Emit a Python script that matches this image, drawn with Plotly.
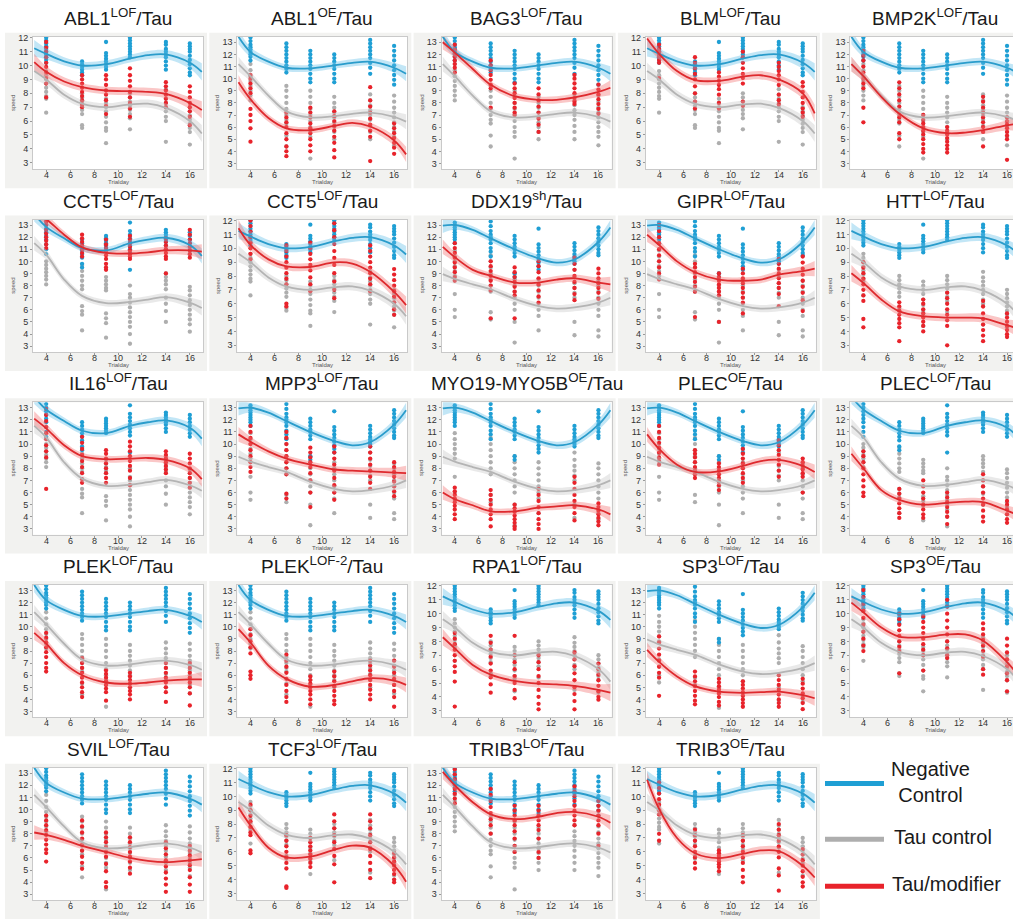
import plotly.graph_objects as go

# ---------------- data ----------------
TITLES = [
    "ABL1<sup>LOF</sup>/Tau", "ABL1<sup>OE</sup>/Tau", "BAG3<sup>LOF</sup>/Tau", "BLM<sup>LOF</sup>/Tau", "BMP2K<sup>LOF</sup>/Tau",
    "CCT5<sup>LOF</sup>/Tau", "CCT5<sup>LOF</sup>/Tau", "DDX19<sup>sh</sup>/Tau", "GIPR<sup>LOF</sup>/Tau", "HTT<sup>LOF</sup>/Tau",
    "IL16<sup>LOF</sup>/Tau", "MPP3<sup>LOF</sup>/Tau", "MYO19-MYO5B<sup>OE</sup>/Tau", "PLEC<sup>OE</sup>/Tau", "PLEC<sup>LOF</sup>/Tau",
    "PLEK<sup>LOF</sup>/Tau", "PLEK<sup>LOF-2</sup>/Tau", "RPA1<sup>LOF</sup>/Tau", "SP3<sup>LOF</sup>/Tau", "SP3<sup>OE</sup>/Tau",
    "SVIL<sup>LOF</sup>/Tau", "TCF3<sup>LOF</sup>/Tau", "TRIB3<sup>LOF</sup>/Tau", "TRIB3<sup>OE</sup>/Tau",
]
BATCH = ["A", "B", "B", "A", "B",
         "D", "A", "C", "C", "A",
         "D", "C", "C", "C", "D",
         "B", "B", "A", "C", "A",
         "B", "A", "B", "A"]

X_TITLE = "Trialday"
Y_TITLE = "speed"
KNOTS_X = [3, 4, 5.5, 7, 9, 11, 12.5, 14, 16, 17]
DAYS = [4, 7, 9, 11, 14, 16]
BAND_HALF = [0.6, 0.4, 0.3, 0.28, 0.28, 0.28, 0.3, 0.32, 0.42, 0.62]
X_TICKS = [4, 6, 8, 10, 12, 14, 16]
Y_TOP = {"A": 12.07, "B": 13.45, "C": 13.45, "D": 13.45}
Y_TICK_MAX = {"A": 12, "B": 13, "C": 13, "D": 13}

NEG_CURVE = {
    "A": [11.25, 10.85, 10.3, 10.0, 10.1, 10.5, 10.75, 10.8, 10.2, 9.55],
    "B": [13.45, 12.2, 11.4, 10.9, 10.85, 11.1, 11.3, 11.4, 10.9, 10.4],
    "C": [12.95, 13.0, 12.6, 11.9, 11.0, 10.25, 9.9, 10.15, 11.6, 12.8],
    "D": [13.9, 12.85, 11.9, 11.1, 10.9, 11.5, 11.8, 11.95, 11.35, 10.45],
}
TAU_CURVE = {
    "A": [9.6, 9.0, 7.9, 7.25, 7.0, 7.2, 7.25, 6.95, 6.0, 5.1],
    "B": [11.2, 10.2, 8.6, 7.3, 6.8, 6.9, 7.1, 7.2, 6.85, 6.45],
    "C": [8.95, 8.55, 8.1, 7.7, 6.9, 6.3, 6.1, 6.2, 6.6, 7.0],
    "D": [11.5, 10.55, 8.5, 7.15, 6.55, 6.65, 6.85, 7.05, 6.6, 6.15],
}
NEG_POINTS = {
    "A": [[12.0, 11.8, 11.6, 11.4, 11.2, 11.0, 10.8, 10.6, 10.4, 10.2],
          [10.3, 10.1, 9.9, 9.7, 9.5, 9.3],
          [11.7, 10.9, 10.7, 10.5, 10.3, 10.1, 9.9, 9.7],
          [12.0, 11.8, 11.6, 11.4, 11.2, 11.0, 10.8, 10.6],
          [11.7, 11.5, 11.2, 11.0, 10.8, 10.6, 10.3, 10.0, 9.7],
          [11.6, 11.4, 11.2, 11.0, 10.7, 10.4, 10.1, 9.8, 9.5, 9.3]],
    "B": [[13.4, 13.1, 12.8, 12.6, 12.4, 12.2, 12.0, 11.8, 11.5],
          [12.9, 12.6, 12.3, 12.0, 11.7, 11.4, 11.1, 10.8, 10.5],
          [12.3, 12.0, 11.7, 11.4, 11.1, 10.8, 10.4, 10.0, 9.7],
          [12.0, 11.7, 11.4, 11.1, 10.8, 10.4, 10.0, 9.7],
          [13.2, 12.9, 12.6, 12.3, 12.0, 11.7, 11.3, 10.9, 10.4],
          [12.7, 12.3, 11.9, 11.5, 11.1, 10.7, 10.3, 9.9, 9.5]],
    "C": [[13.2, 13.0, 12.8, 12.6, 12.4, 12.2, 12.0, 11.8, 11.5],
          [13.3, 12.9, 12.5, 12.2, 12.0, 11.8, 11.5, 11.1, 10.8, 10.4],
          [12.1, 11.8, 11.5, 11.2, 11.0, 10.7, 10.4, 9.0, 8.7],
          [12.7, 11.4, 11.1, 10.8, 10.5, 10.2, 9.9, 9.6, 9.3],
          [11.5, 11.2, 10.9, 10.6, 10.4, 10.2, 10.0, 9.8],
          [12.8, 12.5, 12.2, 11.9, 11.6, 11.3, 11.0, 10.7, 10.5]],
    "D": [[13.3, 13.0, 12.7, 12.4, 12.1, 11.8, 11.4, 11.0, 10.6],
          [11.8, 11.5, 11.2, 10.9, 10.6, 10.3, 9.8, 9.5],
          [12.1, 11.9, 11.7, 11.5, 11.3, 11.1, 10.9],
          [13.2, 12.5, 12.2, 11.9, 11.6, 11.3, 11.0, 10.7, 9.3],
          [12.6, 12.4, 12.2, 12.0, 11.8, 11.6, 11.3, 11.0],
          [12.4, 12.1, 11.8, 11.5, 11.2, 10.9, 10.6]],
}
TAU_POINTS = {
    "A": [[9.6, 9.3, 9.0, 8.7, 8.4, 8.1, 7.8, 7.6, 6.6],
          [8.0, 7.7, 7.4, 7.1, 6.8, 6.5, 5.7, 5.5],
          [7.6, 7.3, 7.0, 6.7, 6.3, 5.9, 5.5, 5.3, 4.4],
          [8.0, 7.7, 7.4, 7.1, 6.8, 6.5, 6.2, 5.4],
          [8.3, 7.9, 7.6, 7.3, 7.0, 6.7, 6.3, 6.0, 4.5],
          [7.0, 6.7, 6.4, 6.1, 5.8, 5.5, 5.2, 4.3]],
    "B": [[11.2, 10.7, 10.2, 9.8, 9.4, 9.0, 8.6, 8.2],
          [9.4, 9.0, 8.5, 8.0, 7.5, 7.0, 6.6, 6.3, 5.3, 4.4],
          [9.0, 8.5, 8.0, 7.5, 7.0, 6.5, 6.0, 5.6, 5.2, 3.4],
          [8.5, 8.0, 7.6, 7.2, 6.8, 6.4, 6.0, 5.6, 5.0],
          [8.7, 8.2, 7.8, 7.4, 7.0, 6.6, 6.1, 5.6, 5.0],
          [8.6, 8.1, 7.6, 7.2, 6.8, 6.4, 6.0, 5.6, 5.2, 4.5]],
    "C": [[10.9, 10.4, 10.0, 9.6, 9.2, 8.8, 7.3, 6.0, 5.4],
          [10.5, 10.0, 9.5, 9.0, 8.5, 8.0, 7.5, 5.8, 5.2],
          [9.0, 8.5, 8.0, 7.5, 7.0, 6.5, 6.0, 5.0, 3.3],
          [8.5, 8.0, 7.5, 7.0, 6.5, 6.0, 5.5, 4.3],
          [9.3, 8.7, 8.2, 7.8, 7.4, 7.0, 5.0, 3.9],
          [8.4, 8.0, 7.5, 7.0, 6.5, 6.0, 5.5, 4.3, 3.8]],
    "D": [[10.0, 9.7, 9.4, 9.1, 8.8, 8.5, 8.1],
          [9.7, 9.2, 8.8, 8.4, 8.0, 7.7, 6.3, 5.9, 5.6, 4.3],
          [8.7, 8.4, 8.1, 7.8, 7.6, 5.7, 5.3, 4.9, 3.7],
          [8.0, 7.3, 7.0, 6.6, 6.2, 5.8, 5.4, 5.0, 4.6, 4.0, 3.2],
          [9.0, 8.7, 8.4, 8.1, 7.7, 7.0, 6.5, 5.9, 5.0],
          [7.9, 7.6, 7.2, 6.8, 6.4, 6.0, 5.6, 5.2, 4.8, 4.2]],
}

MOD_CURVE = [
    [10.25, 9.55, 8.85, 8.45, 8.2, 8.15, 8.1, 7.95, 7.3, 6.8],
    [9.7, 8.3, 6.75, 5.9, 5.75, 6.1, 6.35, 6.05, 4.9, 3.75],
    [13.0, 12.15, 10.8, 9.5, 8.55, 8.25, 8.25, 8.45, 8.9, 9.25],
    [11.95, 10.85, 9.6, 8.95, 8.9, 9.2, 9.3, 9.0, 8.0, 6.55],
    [11.2, 10.2, 8.5, 7.1, 5.9, 5.5, 5.55, 5.75, 6.15, 6.3],
    [14.2, 13.5, 12.2, 11.15, 10.7, 10.65, 10.75, 10.9, 10.9, 10.8],
    [11.45, 10.25, 9.2, 8.7, 8.65, 8.98, 8.9, 8.3, 6.85, 5.9],
    [11.2, 10.35, 9.3, 8.8, 8.25, 8.25, 8.5, 8.6, 8.25, 8.1],
    [12.2, 11.35, 10.0, 9.1, 8.5, 8.4, 8.5, 8.9, 9.2, 9.4],
    [8.2, 7.5, 6.3, 5.45, 5.1, 5.0, 5.0, 4.95, 4.45, 4.2],
    [12.1, 11.3, 9.9, 9.0, 8.75, 8.8, 8.85, 8.7, 8.0, 7.1],
    [10.8, 10.2, 9.4, 8.8, 8.3, 7.9, 7.8, 7.75, 7.65, 7.6],
    [6.0, 5.45, 4.95, 4.45, 4.45, 4.75, 4.85, 4.95, 4.6, 4.2],
    [10.8, 9.6, 8.3, 7.7, 7.75, 8.2, 8.6, 8.7, 8.2, 7.7],
    [9.2, 8.0, 6.2, 5.4, 5.0, 5.15, 5.25, 5.2, 4.5, 4.1],
    [9.5, 8.6, 7.0, 6.0, 5.4, 5.3, 5.4, 5.55, 5.65, 5.65],
    [9.8, 8.7, 6.8, 5.7, 5.05, 5.2, 5.5, 5.75, 5.55, 5.2],
    [8.3, 7.5, 6.3, 5.6, 5.15, 4.95, 4.9, 4.8, 4.5, 4.3],
    [8.1, 7.1, 5.9, 5.1, 4.65, 4.55, 4.6, 4.65, 4.35, 4.1],
    [10.8, 10.1, 9.0, 8.35, 8.3, 8.5, 8.5, 8.05, 6.5, 5.5],
    [8.1, 7.9, 7.5, 7.0, 6.5, 6.0, 5.75, 5.65, 5.8, 5.9],
    [9.2, 7.9, 6.3, 5.6, 5.65, 6.15, 6.45, 6.3, 5.0, 3.85],
    [13.1, 12.0, 10.6, 9.6, 9.2, 9.4, 9.7, 9.8, 9.4, 8.9],
    [11.2, 9.1, 7.0, 5.9, 5.55, 5.85, 6.1, 6.05, 5.0, 4.15],
]

MOD_POINTS = [
    [[11.7, 11.3, 11.0, 10.6, 10.2, 9.9, 9.5, 9.1, 8.7, 7.7], [9.3, 9.0, 8.7, 8.4, 8.1, 7.8, 7.5, 7.2, 7.0],
     [9.3, 9.0, 8.6, 8.2, 7.9, 7.5, 7.1, 6.5], [9.8, 9.3, 8.9, 8.5, 8.1, 7.7, 7.3, 6.9, 6.3],
     [8.8, 8.5, 8.2, 7.9, 7.6, 7.3, 7.0], [8.5, 8.1, 7.7, 7.3, 7.0, 6.7, 6.3, 5.7]],
    [[10.3, 10.0, 9.6, 9.2, 8.8, 7.5, 7.0, 6.5, 5.9, 4.8], [7.2, 6.8, 6.4, 6.0, 5.5, 5.0, 4.4, 4.0, 3.6],
     [7.6, 7.2, 6.8, 6.3, 5.9, 5.5, 5.0, 4.5, 4.0], [7.3, 6.9, 6.5, 6.1, 5.7, 5.2, 4.7, 4.1, 3.5],
     [9.3, 8.2, 7.7, 7.2, 6.7, 6.2, 5.7, 5.2, 3.2], [6.3, 5.9, 5.5, 5.1, 4.7, 4.3, 3.8]],
    [[12.8, 12.4, 12.1, 11.8, 11.5, 11.2, 10.9, 10.5], [11.5, 11.1, 10.7, 10.3, 9.9, 9.5, 9.2, 7.6],
     [9.6, 9.2, 8.8, 8.4, 8.0, 7.6, 7.2, 7.0], [9.2, 8.7, 8.2, 7.7, 7.2, 6.7, 6.2, 5.6],
     [10.3, 10.0, 9.6, 9.2, 8.8, 8.4, 8.1, 7.9], [9.5, 9.1, 8.7, 8.3, 7.9, 7.5, 7.1]],
    [[11.5, 11.2, 11.0, 10.8, 10.6, 10.4, 10.2, 9.1], [10.6, 10.2, 9.8, 9.4, 9.0, 8.5, 8.0, 7.4, 6.9],
     [9.5, 9.2, 8.9, 8.6, 8.3, 7.9, 7.3, 6.9], [11.0, 10.6, 10.2, 9.8, 9.4, 9.1, 8.7, 7.4, 7.1],
     [10.2, 9.9, 9.6, 9.3, 9.0, 8.6, 7.9, 7.5, 7.2], [8.8, 8.5, 8.1, 7.7, 7.3, 6.9, 6.6, 6.3]],
    [[12.3, 11.9, 11.5, 11.0, 10.5, 10.0, 9.6, 9.2, 7.6, 6.4], [9.7, 9.2, 8.7, 8.2, 7.7, 7.2, 6.8, 6.4, 5.5, 5.0],
     [7.0, 6.6, 6.3, 6.0, 5.7, 5.4, 5.0, 4.6, 4.2, 3.9], [6.0, 5.7, 5.4, 5.1, 4.8, 4.5, 4.2, 3.9],
     [8.5, 8.1, 7.6, 7.2, 6.8, 6.4, 6.0, 5.6, 4.4], [6.8, 6.5, 6.2, 5.9, 5.6, 5.3, 5.0, 3.3]],
    [[13.3, 13.0, 12.6, 12.3, 12.0, 11.7, 11.4, 11.1], [12.2, 11.9, 11.6, 11.3, 11.0, 10.7, 10.4],
     [11.8, 11.4, 11.1, 10.8, 10.5, 10.2, 9.8, 9.5, 9.3], [12.1, 11.8, 11.5, 11.2, 10.9, 10.6, 10.4, 10.2],
     [11.9, 11.6, 11.3, 11.0, 10.7, 10.4, 10.2, 9.0], [12.6, 12.2, 11.8, 11.5, 11.2, 10.9, 10.6, 10.3]],
    [[12.0, 11.6, 11.2, 10.8, 10.4, 10.0, 9.6, 9.2], [10.2, 9.8, 9.4, 9.0, 8.6, 8.2, 7.8, 7.4, 6.0, 5.8],
     [10.4, 10.0, 9.6, 9.2, 8.8, 8.4, 7.9, 7.4, 6.9], [11.8, 11.3, 10.8, 10.3, 9.8, 9.3, 8.8, 8.2, 7.6, 7.0, 6.4],
     [10.2, 9.8, 9.4, 9.0, 8.6, 8.2, 7.8, 7.4, 6.9], [8.5, 8.1, 7.7, 7.3, 6.9, 6.5, 6.1, 5.6, 5.2]],
    [[11.5, 11.1, 10.7, 10.3, 9.9, 9.5, 9.1, 8.7, 8.4], [10.0, 9.6, 9.2, 8.8, 8.4, 8.0, 7.6, 5.3],
     [9.5, 9.1, 8.7, 8.3, 7.9, 7.5, 7.2, 5.3], [10.0, 9.6, 9.1, 8.6, 8.1, 7.6, 7.1, 6.6],
     [10.3, 9.8, 9.3, 8.8, 8.3, 7.8, 7.3, 6.8], [9.4, 9.0, 8.6, 8.2, 7.8, 7.4, 6.9]],
    [[13.0, 12.5, 12.0, 11.5, 11.0, 10.5, 10.0, 9.5, 9.0, 8.5], [9.8, 9.5, 9.1, 8.7, 8.3, 7.9, 7.5, 5.4],
     [9.0, 8.7, 8.4, 8.1, 7.8, 7.5, 7.2, 5.0], [9.4, 9.0, 8.6, 8.2, 7.8, 7.4, 7.0, 6.6, 5.7],
     [10.2, 9.8, 9.4, 9.0, 8.6, 8.2, 7.8, 7.3, 6.3], [10.4, 9.9, 9.4, 8.9, 8.4, 7.9, 7.4, 6.8, 5.9]],
    [[9.0, 8.6, 8.2, 7.8, 7.4, 7.0, 6.6, 6.2, 4.9, 4.3], [6.1, 5.8, 5.5, 5.2, 4.9, 4.6, 4.3, 3.3],
     [6.3, 6.0, 5.6, 5.3, 5.0, 4.7, 4.4, 4.0], [6.8, 6.4, 6.0, 5.6, 5.2, 4.8, 4.4, 3.0],
     [6.2, 5.8, 5.3, 4.9, 4.5, 4.1, 3.7, 3.3], [5.3, 5.0, 4.7, 4.4, 4.1, 3.8, 3.6]],
    [[12.9, 12.4, 11.9, 11.4, 10.9, 10.4, 9.9, 9.4, 8.9, 6.3], [10.6, 10.1, 9.6, 9.1, 8.6, 8.1, 7.6, 7.1, 6.8],
     [9.5, 9.2, 8.8, 8.4, 8.0, 7.6, 7.2, 6.8], [10.2, 9.8, 9.4, 9.0, 8.6, 8.2, 7.8, 7.2, 6.6],
     [9.4, 9.1, 8.8, 8.5, 8.2, 7.9, 7.6], [9.2, 8.8, 8.4, 8.0, 7.6, 7.2, 6.8, 6.4]],
    [[11.5, 11.0, 10.5, 10.0, 9.5, 9.0, 8.5, 8.1, 7.7], [11.0, 10.5, 10.0, 9.5, 9.0, 8.5, 8.0, 7.5, 5.9, 5.5],
     [9.7, 9.3, 8.9, 8.5, 8.1, 7.6, 7.0, 6.0, 4.8], [9.8, 9.3, 8.8, 8.3, 7.8, 7.2, 6.6, 6.0, 5.4],
     [9.8, 9.3, 8.8, 8.3, 7.8, 7.3, 6.8, 6.3], [8.5, 8.1, 7.7, 7.3, 6.9, 6.5, 6.1, 5.7]],
    [[6.4, 6.1, 5.8, 5.5, 5.2, 4.9, 4.6, 4.2, 3.8], [6.2, 5.8, 5.4, 5.0, 4.6, 4.2, 3.8, 3.2],
     [5.0, 4.7, 4.4, 4.1, 3.8, 3.5, 3.2, 3.0], [6.3, 5.8, 5.3, 4.8, 4.3, 3.8, 3.4, 3.0],
     [7.3, 6.8, 6.3, 5.8, 5.3, 4.8, 4.3, 3.7], [5.1, 4.8, 4.5, 4.2, 3.9, 3.6, 3.3]],
    [[11.5, 11.0, 10.5, 10.1, 9.7, 9.3, 8.9, 8.6, 8.3], [9.5, 9.2, 8.9, 8.5, 8.1, 7.8, 7.5, 7.2],
     [8.4, 8.1, 7.8, 7.5, 7.2, 6.9, 6.6, 6.2], [9.6, 9.2, 8.8, 8.4, 8.0, 7.6, 7.2, 6.8],
     [10.3, 9.9, 9.5, 9.1, 8.7, 8.3, 7.8, 7.3], [8.8, 8.5, 8.2, 7.9, 7.6, 7.3, 6.0]],
    [[9.4, 9.0, 8.5, 8.0, 7.5, 7.0, 6.5, 6.0, 5.7], [6.3, 5.9, 5.5, 5.1, 4.7, 4.3, 3.9],
     [7.0, 6.5, 6.0, 5.5, 5.0, 4.6, 4.2, 3.9], [6.0, 5.6, 5.2, 4.8, 4.4, 4.0, 3.4],
     [7.5, 7.0, 6.5, 6.0, 5.5, 5.0, 4.5, 4.0, 3.6], [5.3, 5.0, 4.6, 4.2, 3.8, 3.5]],
    [[9.5, 9.1, 8.7, 8.3, 7.9, 7.5, 7.0, 6.6, 6.3], [7.4, 7.0, 6.6, 6.2, 5.8, 5.4, 5.0, 4.6, 4.2],
     [6.4, 6.1, 5.8, 5.5, 5.2, 4.9, 4.6, 3.9], [6.2, 5.9, 5.6, 5.3, 5.0, 4.7, 4.4, 4.0],
     [7.0, 6.6, 6.2, 5.8, 5.4, 5.0, 4.6, 3.8], [7.0, 6.6, 6.2, 5.8, 5.4, 5.0, 4.5, 3.5]],
    [[9.8, 9.3, 8.8, 8.3, 7.8, 6.3, 6.0, 5.7], [7.7, 7.2, 6.7, 6.2, 5.7, 5.2, 4.7, 4.2, 3.8],
     [5.9, 5.6, 5.3, 5.0, 4.7, 4.4, 4.0, 3.6], [6.3, 5.9, 5.5, 5.1, 4.7, 4.3, 3.9, 3.6],
     [7.2, 6.8, 6.4, 6.0, 5.6, 5.2, 4.8, 4.4, 4.0], [7.2, 6.7, 6.2, 5.7, 5.2, 4.7, 4.2, 3.4]],
    [[8.6, 8.2, 7.8, 7.4, 7.0, 6.6, 6.2, 5.8, 5.1, 3.3], [8.4, 7.9, 7.4, 6.9, 6.4, 5.9, 5.4, 4.9, 4.3],
     [8.4, 7.0, 6.5, 6.0, 5.5, 5.0, 4.5, 3.9], [7.0, 6.5, 6.0, 5.5, 5.0, 4.5, 4.0, 3.5, 3.1],
     [7.2, 6.7, 6.2, 5.7, 5.2, 4.7, 4.2, 3.7, 3.1], [6.4, 6.0, 5.6, 5.2, 4.8, 4.4, 4.0, 3.8]],
    [[9.2, 8.7, 8.2, 7.7, 7.2, 6.7, 6.2, 5.8, 4.3], [6.3, 5.9, 5.5, 5.1, 4.7, 4.3, 3.9, 3.6],
     [5.7, 5.4, 5.1, 4.8, 4.5, 4.2, 3.8, 3.5], [5.5, 5.2, 4.9, 4.6, 4.3, 4.0, 3.7, 3.4],
     [6.0, 5.6, 5.2, 4.8, 4.4, 4.0, 3.7, 3.4], [5.7, 5.3, 4.9, 4.5, 4.1, 3.7, 3.2]],
    [[11.7, 11.2, 10.7, 10.2, 9.7, 9.2, 8.7, 8.2, 7.7, 7.3], [10.0, 9.6, 9.2, 8.8, 8.4, 8.0, 7.6, 7.3, 5.7],
     [9.8, 9.4, 9.0, 8.6, 8.2, 7.8, 7.4, 7.0, 5.9], [11.0, 10.5, 10.0, 9.5, 9.0, 8.5, 8.0, 7.5, 7.0, 6.8],
     [9.3, 8.9, 8.5, 8.1, 7.7, 7.3, 6.9, 6.0, 5.6], [8.2, 7.7, 7.2, 6.7, 6.2, 5.7, 5.2, 4.4]],
    [[9.5, 9.1, 8.7, 8.3, 7.9, 7.5, 7.1, 6.7, 6.4, 5.7], [9.1, 8.6, 8.1, 7.6, 7.1, 6.6, 6.1, 5.6, 5.1],
     [8.1, 7.7, 7.3, 6.9, 6.5, 6.1, 5.5, 4.9, 4.0, 3.6], [7.7, 7.3, 6.9, 6.5, 6.1, 5.7, 5.2, 4.7],
     [7.3, 6.8, 6.3, 5.8, 5.3, 4.8, 4.3, 3.8, 3.2], [7.0, 6.6, 6.2, 5.8, 5.4, 5.0, 4.4, 3.8, 3.2]],
    [[9.4, 9.0, 8.6, 8.2, 7.8, 7.4, 7.2, 6.1, 5.9], [7.2, 6.8, 6.4, 6.0, 5.6, 5.2, 4.8, 3.5, 3.4],
     [7.0, 6.7, 6.4, 6.1, 5.8, 5.5, 5.2, 4.9], [8.7, 8.2, 7.7, 7.2, 6.7, 6.2, 5.7, 5.1, 3.8],
     [8.7, 8.2, 7.7, 7.2, 6.7, 6.2, 5.7, 5.2, 4.7, 4.1], [5.9, 5.6, 5.3, 5.0, 4.7, 4.4, 4.0, 3.8]],
    [[13.3, 12.9, 12.5, 12.1, 11.7, 11.3, 10.9, 10.5], [11.7, 11.2, 10.7, 10.2, 9.7, 9.2, 8.7, 8.0],
     [10.3, 9.9, 9.5, 9.1, 8.7, 8.2, 7.6, 7.0, 6.5], [10.3, 9.9, 9.5, 9.1, 8.7, 8.3, 7.6, 6.5, 6.0],
     [11.9, 11.5, 11.1, 10.7, 10.3, 9.9, 9.5, 9.1, 8.7], [10.7, 10.3, 9.9, 9.5, 9.1, 8.7, 8.0, 7.0]],
    [[11.0, 10.6, 10.2, 9.8, 9.4, 9.0, 8.7, 7.3, 6.8], [7.6, 7.2, 6.8, 6.4, 6.0, 5.6, 5.2, 4.8],
     [6.1, 5.9, 5.7, 5.5, 5.3, 5.1, 4.9, 4.6], [7.2, 6.8, 6.4, 6.0, 5.6, 5.2, 4.7, 4.2, 3.8],
     [8.0, 7.6, 7.2, 6.8, 6.4, 6.0, 5.6, 4.8, 4.3, 3.2], [6.2, 5.8, 5.4, 5.0, 4.6, 4.2, 3.8, 3.5]],
]

LEGEND_LABELS = ["Negative<br>Control", "Tau control", "Tau/modifier"]

# ---------------- style / layout ----------------
W, H = 1013, 924
COL_LEFT = [33, 237.3, 441.6, 645.9, 850.2]
ROW_TOP = [33, 216.5, 400, 583.5, 767]
PW, PH = 170, 133
PX_PER_UNIT = PW / 14.2
X0 = 2.9

BLUE, GREY, RED = "#1f9fd4", "#aeaeae", "#e8232b"
BLUE_LINE, GREY_LINE, RED_LINE = "#2a9ccb", "#b4b4b4", "#de2a2e"
BLUE_BAND, GREY_BAND, RED_BAND = "rgba(95,190,232,0.38)", "rgba(200,200,200,0.40)", "rgba(242,115,115,0.40)"
FONT = "Liberation Sans, Arial, sans-serif"
TICK_FONT = dict(family=FONT, size=9, color="#333")


def fx(px):
    return px / W


def fy(py):
    return 1 - py / H


fig = go.Figure()
shapes = []
annotations = []
layout = {}


def flat(points):
    xs, ys = [], []
    for d, col in zip(DAYS, points):
        for v in col:
            xs.append(d)
            ys.append(v)
    return xs, ys


for i in range(24):
    r, c = divmod(i, 5)
    n = i + 1
    xa = "x" if n == 1 else f"x{n}"
    ya = "y" if n == 1 else f"y{n}"
    L = COL_LEFT[c]
    T = ROW_TOP[r]
    R = min(L + PW, W)
    b = BATCH[i]

    # panel background + white plot area
    shapes.append(dict(type="rect", xref="paper", yref="paper", layer="below",
                       x0=fx(L - 28), x1=fx(min(L + PW + 4, W)), y0=fy(T + PH + 19), y1=fy(T - 4),
                       fillcolor="#f2f2f0", line=dict(width=0)))
    shapes.append(dict(type="rect", xref="paper", yref="paper", layer="below",
                       x0=fx(L), x1=fx(R), y0=fy(T + PH), y1=fy(T),
                       fillcolor="white", line=dict(width=0)))

    xr_end = X0 + (R - L) / PX_PER_UNIT
    layout[f"xaxis{'' if n == 1 else n}"] = dict(
        domain=[fx(L), fx(R)], range=[X0, xr_end], anchor=ya,
        tickvals=X_TICKS, ticks="outside", ticklen=2, tickcolor="#999", tickwidth=1,
        showticklabels=False,
        showline=True, mirror=True, linecolor="#c9c9c9", linewidth=1,
        showgrid=False, zeroline=False,
    )
    layout[f"yaxis{'' if n == 1 else n}"] = dict(
        domain=[fy(T + PH), fy(T)], range=[2.52, Y_TOP[b]], anchor=xa,
        tickvals=list(range(3, Y_TICK_MAX[b] + 1)), ticks="outside", ticklen=2, tickcolor="#999", tickwidth=1,
        showline=True, mirror=(c != 4), linecolor="#c9c9c9", linewidth=1,
        showgrid=False, zeroline=False, tickfont=TICK_FONT,
    )

    # x tick labels placed just under the axis
    for t in X_TICKS:
        annotations.append(dict(xref=xa, yref="paper", x=t, y=fy(T + PH + 6), text=str(t),
                                showarrow=False, xanchor="center", yanchor="middle", font=TICK_FONT))

    # points
    for pts, col in ((TAU_POINTS[b], GREY), (NEG_POINTS[b], BLUE), (MOD_POINTS[i], RED)):
        xs, ys = flat(pts)
        fig.add_trace(go.Scatter(x=xs, y=ys, mode="markers", xaxis=xa, yaxis=ya,
                                 marker=dict(size=4.3, color=col, line=dict(width=0)),
                                 hoverinfo="skip", showlegend=False))
    # bands
    for curve, band in ((TAU_CURVE[b], GREY_BAND), (NEG_CURVE[b], BLUE_BAND), (MOD_CURVE[i], RED_BAND)):
        lo = [v - h for v, h in zip(curve, BAND_HALF)]
        hi = [v + h for v, h in zip(curve, BAND_HALF)]
        fig.add_trace(go.Scatter(x=KNOTS_X, y=lo, mode="lines", xaxis=xa, yaxis=ya,
                                 line=dict(width=0, shape="spline"), hoverinfo="skip", showlegend=False))
        fig.add_trace(go.Scatter(x=KNOTS_X, y=hi, mode="lines", xaxis=xa, yaxis=ya, fill="tonexty",
                                 fillcolor=band, line=dict(width=0, shape="spline"),
                                 hoverinfo="skip", showlegend=False))
    # fitted lines
    for curve, col in ((TAU_CURVE[b], GREY_LINE), (NEG_CURVE[b], BLUE_LINE), (MOD_CURVE[i], RED_LINE)):
        fig.add_trace(go.Scatter(x=KNOTS_X, y=curve, mode="lines", xaxis=xa, yaxis=ya,
                                 line=dict(width=1.8, color=col, shape="spline"),
                                 hoverinfo="skip", showlegend=False))

    # title and axis titles
    annotations.append(dict(xref="paper", yref="paper", x=fx(L + PW / 2), y=fy(T - 20),
                            text=TITLES[i], showarrow=False, xanchor="center", yanchor="middle",
                            font=dict(family=FONT, size=19, color="#1a1a1a")))
    annotations.append(dict(xref="paper", yref="paper", x=fx(L + PW / 2), y=fy(T + PH + 13),
                            text=X_TITLE, showarrow=False, xanchor="center", yanchor="middle",
                            font=dict(family=FONT, size=6, color="#555")))
    annotations.append(dict(xref="paper", yref="paper", x=fx(L - 20), y=fy(T + PH / 2),
                            text=Y_TITLE, showarrow=False, xanchor="center", yanchor="middle", textangle=-90,
                            font=dict(family=FONT, size=6, color="#555")))

# legend cell
leg_y = [783, 839, 886]
leg_x = [930, 943, 946]
for lab, col, yy, xx in zip(LEGEND_LABELS, (BLUE, GREY, RED), leg_y, leg_x):
    shapes.append(dict(type="line", xref="paper", yref="paper", x0=fx(825), x1=fx(884),
                       y0=fy(yy), y1=fy(yy), line=dict(color=col, width=5)))
    annotations.append(dict(xref="paper", yref="paper", x=fx(xx), y=fy(yy - 2), text=lab, showarrow=False,
                            xanchor="center", yanchor="middle", align="center",
                            font=dict(family=FONT, size=20, color="#1a1a1a")))

fig.update_layout(width=W, height=H, margin=dict(l=0, r=0, t=0, b=0),
                  paper_bgcolor="white", plot_bgcolor="rgba(0,0,0,0)",
                  shapes=shapes, annotations=annotations, showlegend=False, **layout)

fig.write_html("out.html", config={"displayModeBar": False},
               post_script="document.body.style.margin='0';document.body.style.overflow='hidden';")
